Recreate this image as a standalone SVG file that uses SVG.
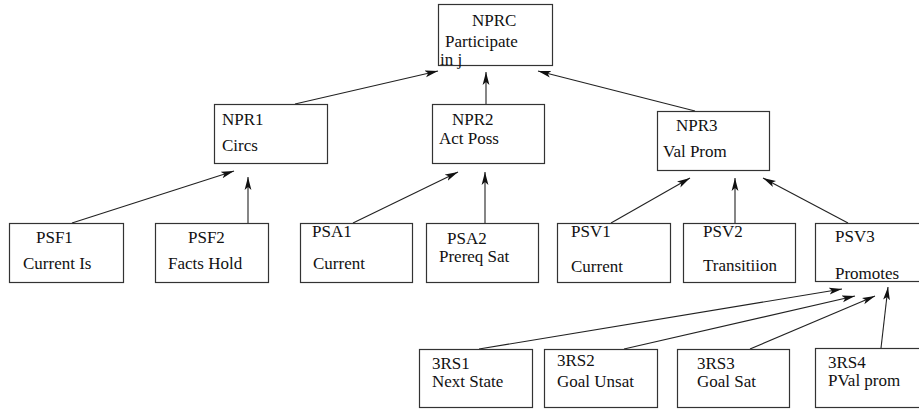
<svg xmlns="http://www.w3.org/2000/svg" width="919" height="411" viewBox="0 0 919 411">
<style>
rect{fill:#fff;stroke:#333;stroke-width:1.2}
.t text{font-family:'Liberation Serif','DejaVu Serif',serif;font-size:17px;fill:#111}
.c line{stroke:#222;stroke-width:1.1;marker-end:url(#ah)}
</style>
<defs>
<marker id="ah" markerUnits="userSpaceOnUse" markerWidth="14" markerHeight="8" refX="13" refY="4" orient="auto">
<path d="M0,0.6 L13,4 L0,7.4 L3,4 Z" fill="#111"/>
</marker>
</defs>
<rect x="0" y="0" width="919" height="411" style="fill:#fff;stroke:none"/>
<g class="c" id="connectors">
<line x1="295" y1="104" x2="438" y2="71"/>
<line x1="486" y1="104" x2="486" y2="72"/>
<line x1="695" y1="111" x2="538" y2="71"/>
<line x1="72" y1="223" x2="234" y2="171"/>
<line x1="248" y1="223" x2="248" y2="177"/>
<line x1="353" y1="223" x2="458" y2="172"/>
<line x1="485" y1="223" x2="485" y2="172"/>
<line x1="611" y1="223" x2="690" y2="178"/>
<line x1="735" y1="236" x2="735" y2="178"/>
<line x1="848" y1="223" x2="763" y2="178"/>
<line x1="479" y1="349" x2="842" y2="289"/>
<line x1="624" y1="349" x2="855" y2="296"/>
<line x1="750" y1="349" x2="875" y2="296"/>
<line x1="881" y1="348" x2="888" y2="287"/>
</g>
<g class="t" font-family="Liberation Serif, serif">
<g id="NPRC"><rect x="438.5" y="4.5" width="114" height="61"/><text x="472" y="26">NPRC</text><text x="445" y="47">Participate</text><text x="440" y="65">in j</text></g>
<g id="NPR1"><rect x="214.5" y="104.5" width="113" height="59"/><text x="222" y="125">NPR1</text><text x="222" y="151">Circs</text></g>
<g id="NPR2"><rect x="432.5" y="104.5" width="112" height="59"/><text x="452" y="125">NPR2</text><text x="439" y="144">Act Poss</text></g>
<g id="NPR3"><rect x="657.5" y="111.5" width="112" height="59"/><text x="676" y="131">NPR3</text><text x="663" y="157">Val Prom</text></g>
<g id="PSF1"><rect x="9.5" y="223.5" width="114" height="59"/><text x="36" y="243">PSF1</text><text x="23" y="269">Current Is</text></g>
<g id="PSF2"><rect x="155.5" y="223.5" width="113" height="59"/><text x="188" y="243">PSF2</text><text x="168" y="269">Facts Hold</text></g>
<g id="PSA1"><rect x="300.5" y="223.5" width="112" height="59"/><text x="312" y="237">PSA1</text><text x="313" y="269">Current</text></g>
<g id="PSA2"><rect x="426.5" y="223.5" width="112" height="59"/><text x="447" y="244">PSA2</text><text x="439" y="262">Prereq Sat</text></g>
<g id="PSV1"><rect x="557.5" y="223.5" width="113" height="59"/><text x="571" y="237">PSV1</text><text x="571" y="272">Current</text></g>
<g id="PSV2"><rect x="683.5" y="223.5" width="112" height="59"/><text x="703" y="237">PSV2</text><text x="703" y="271">Transitiion</text></g>
<g id="PSV3"><rect x="815.5" y="223.5" width="110" height="58"/><text x="835" y="242">PSV3</text><text x="835" y="279">Promotes</text></g>
<g id="3RS1"><rect x="419.5" y="349.5" width="113" height="58"/><text x="432" y="369">3RS1</text><text x="432" y="387">Next State</text></g>
<g id="3RS2"><rect x="544.5" y="349.5" width="113" height="58"/><text x="557" y="366">3RS2</text><text x="557" y="387">Goal Unsat</text></g>
<g id="3RS3"><rect x="677.5" y="349.5" width="112" height="58"/><text x="697" y="369">3RS3</text><text x="697" y="387">Goal Sat</text></g>
<g id="3RS4"><rect x="815.5" y="348.5" width="110" height="59"/><text x="828" y="368">3RS4</text><text x="828" y="386">PVal prom</text></g>
</g>
</svg>
